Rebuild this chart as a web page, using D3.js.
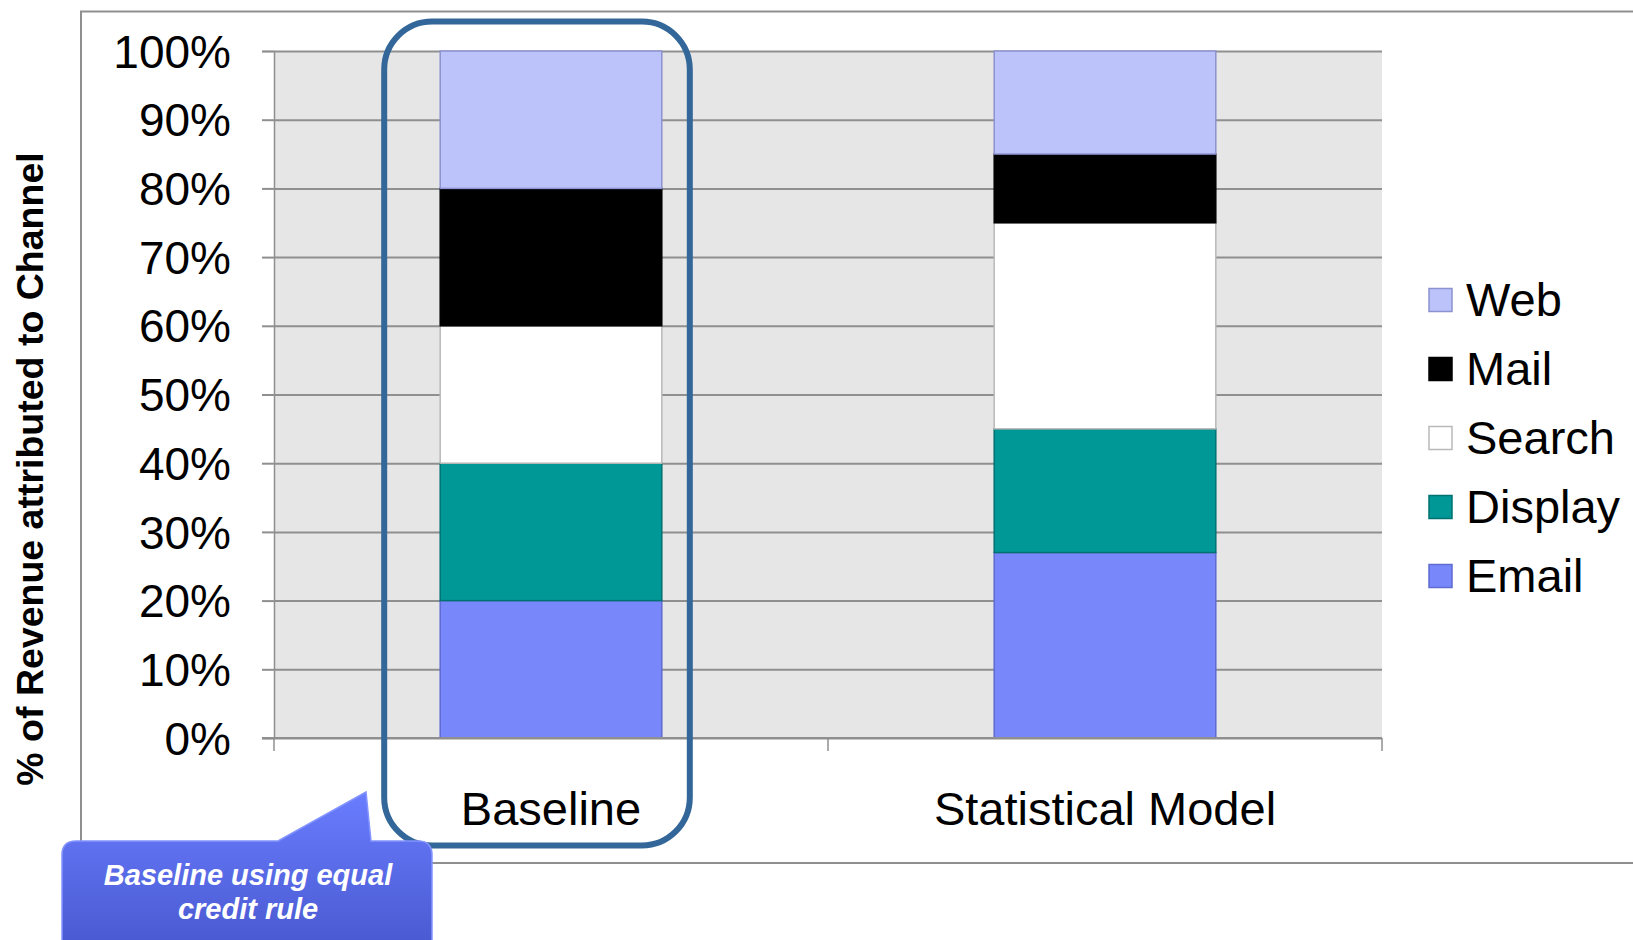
<!DOCTYPE html>
<html>
<head>
<meta charset="utf-8">
<script src="https://cdn.jsdelivr.net/npm/d3@7"></script>
<style>
  html, body { margin: 0; padding: 0; background: #ffffff; }
  svg { display: block; font-family: "Liberation Sans", Arial, Helvetica, sans-serif; }
</style>
</head>
<body>
<svg id="chart" width="1633" height="940"></svg>
<script>
// Revenue attribution by channel, two attribution methods
const categories = ["Baseline", "Statistical Model"];
const channels = ["Email", "Display", "Search", "Mail", "Web"];   // stacking order, bottom to top
const emailShare   = [20, 27];
const displayShare = [20, 18];
const searchShare  = [20, 30];
const mailShare    = [20, 10];
const webShare     = [20, 15];
const yTicks = [0, 10, 20, 30, 40, 50, 60, 70, 80, 90, 100];
const legendOrder = ["Web", "Mail", "Search", "Display", "Email"];
const yTitle = "% of Revenue attributed to Channel";
const noteLines = ["Baseline using equal", "credit rule"];

const fills   = { Email: "#7887f9", Display: "#009797", Search: "#ffffff", Mail: "#000000", Web: "#bcc3fb" };
const strokes = { Email: "#5f6bd0", Display: "#007272", Search: "#b9b9b9", Mail: "#000000", Web: "#8c92cf" };

const rows = categories.map((c, i) => ({
  category: c,
  Email: emailShare[i], Display: displayShare[i], Search: searchShare[i],
  Mail: mailShare[i], Web: webShare[i]
}));

const svg = d3.select("#chart");
const plot = { left: 274, right: 1382, top: 51, bottom: 738 };

const x = d3.scaleBand().domain(categories)
  .range([plot.left, plot.right]).paddingInner(0.6).paddingOuter(0.3);
const y = d3.scaleLinear().domain([0, 100]).range([plot.bottom, plot.top]);

// outer chart frame
svg.append("rect")
  .attr("x", 81).attr("y", 11.5).attr("width", 1700).attr("height", 851.5)
  .attr("fill", "none").attr("stroke", "#8f8f8f").attr("stroke-width", 2);

// plot background
svg.append("rect")
  .attr("x", plot.left).attr("y", plot.top)
  .attr("width", plot.right - plot.left).attr("height", plot.bottom - plot.top)
  .attr("fill", "#e6e6e6");

// y axis with gridlines
const yAxis = d3.axisLeft(y).tickValues(yTicks).tickFormat(d => d + "%")
  .tickSize(12).tickPadding(31);
const yg = svg.append("g").attr("transform", `translate(${plot.left},0)`).call(yAxis);
yg.select(".domain").attr("stroke", "#8f8f8f").attr("stroke-width", 1.5);
yg.selectAll(".tick line").attr("stroke", "#8f8f8f").attr("stroke-width", 2);
yg.selectAll(".tick text")
  .attr("font-size", 46).attr("fill", "#000").attr("dy", "0.35em")
  .style("font-family", "'Liberation Sans', Arial, sans-serif");
yg.selectAll(".tick").append("line")
  .attr("x1", 0).attr("x2", plot.right - plot.left)
  .attr("stroke", "#8f8f8f").attr("stroke-width", 2);

// stacked bars
const stack = d3.stack().keys(channels);
const layers = stack(rows);
svg.append("g").selectAll("g")
  .data(layers)
  .join("g")
  .attr("fill", d => fills[d.key])
  .attr("stroke", d => strokes[d.key])
  .attr("stroke-width", 1.5)
  .selectAll("rect")
  .data(d => d)
  .join("rect")
  .attr("x", d => x(d.data.category))
  .attr("width", x.bandwidth())
  .attr("y", d => y(d[1]))
  .attr("height", d => y(d[0]) - y(d[1]));

// category axis: baseline plus boundary ticks between categories
const xg = svg.append("g");
xg.append("line")
  .attr("x1", plot.left - 12).attr("x2", plot.right)
  .attr("y1", y(0)).attr("y2", y(0))
  .attr("stroke", "#8f8f8f").attr("stroke-width", 2);
const bounds = d3.range(categories.length + 1).map(i => plot.left + i * x.step());
xg.selectAll("line.bound").data(bounds).join("line")
  .attr("class", "bound")
  .attr("x1", d => d).attr("x2", d => d)
  .attr("y1", y(0)).attr("y2", y(0) + 13)
  .attr("stroke", "#8f8f8f").attr("stroke-width", 1.5);
xg.selectAll("text").data(categories).join("text")
  .attr("x", d => x(d) + x.bandwidth() / 2)
  .attr("y", 825)
  .attr("text-anchor", "middle")
  .attr("font-size", 47)
  .attr("fill", "#000")
  .text(d => d);

// y axis title
svg.append("text")
  .attr("transform", "translate(43,469) rotate(-90)")
  .attr("text-anchor", "middle")
  .attr("font-size", 37.5)
  .attr("font-weight", "bold")
  .attr("fill", "#000")
  .text(yTitle);

// legend
const legend = svg.append("g").selectAll("g")
  .data(legendOrder).join("g")
  .attr("transform", (d, i) => `translate(1429,${300 + i * 69})`);
legend.append("rect")
  .attr("x", 0).attr("y", -11.5).attr("width", 23).attr("height", 23)
  .attr("fill", d => fills[d])
  .attr("stroke", d => strokes[d])
  .attr("stroke-width", 1.5);
legend.append("text")
  .attr("x", 37).attr("dy", "0.35em")
  .attr("font-size", 47)
  .attr("fill", "#000")
  .text(d => d);

// highlight around the baseline column
const hb = x("Baseline");
svg.append("rect")
  .attr("x", hb - 56).attr("y", 21.5)
  .attr("width", x.bandwidth() + 84).attr("height", 824)
  .attr("rx", 48).attr("ry", 48)
  .attr("fill", "none")
  .attr("stroke", "#336699").attr("stroke-width", 6);

// callout note
const defs = svg.append("defs");
const grad = defs.append("linearGradient").attr("id", "noteFill")
  .attr("x1", 0).attr("y1", 0).attr("x2", 0).attr("y2", 1);
grad.append("stop").attr("offset", "0%").attr("stop-color", "#6a7dff");
grad.append("stop").attr("offset", "100%").attr("stop-color", "#4656cc");

const nL = 62, nR = 432, nT = 841, nB = 960, r = 14;
const notePath = [
  `M${nL + r},${nT}`,
  `L278,${nT}`,
  `L366,792`,
  `L371,${nT}`,
  `L${nR - r},${nT}`,
  `Q${nR},${nT} ${nR},${nT + r}`,
  `L${nR},${nB - r}`,
  `Q${nR},${nB} ${nR - r},${nB}`,
  `L${nL + r},${nB}`,
  `Q${nL},${nB} ${nL},${nB - r}`,
  `L${nL},${nT + r}`,
  `Q${nL},${nT} ${nL + r},${nT}`,
  "Z"
].join(" ");
svg.append("path")
  .attr("d", notePath)
  .attr("fill", "url(#noteFill)")
  .attr("stroke", "#8494ff").attr("stroke-width", 1.5);
svg.append("g").selectAll("text").data(noteLines).join("text")
  .attr("x", 248)
  .attr("y", (d, i) => 885 + i * 34)
  .attr("text-anchor", "middle")
  .attr("font-size", 29)
  .attr("font-weight", "bold")
  .attr("font-style", "italic")
  .attr("fill", "#ffffff")
  .text(d => d);
</script>
</body>
</html>
